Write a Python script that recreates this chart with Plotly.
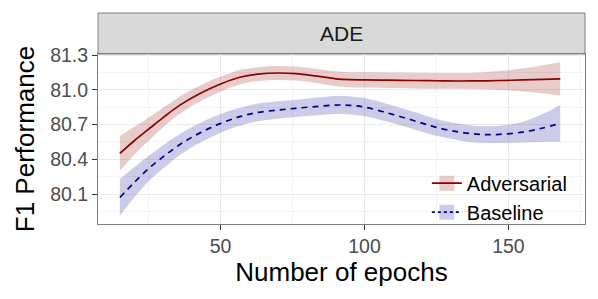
import plotly.graph_objects as go

# ---- data ----
epochs = [15, 20, 25, 30, 36, 43, 50, 57, 63, 70, 76, 83, 90, 95, 100, 108, 117, 125, 133, 140, 147, 155, 162, 168]

adv_mean = [80.45, 80.56, 80.66, 80.76, 80.87, 80.97, 81.05, 81.11, 81.135, 81.145, 81.14, 81.12,
            81.095, 81.087, 81.085, 81.083, 81.08, 81.078, 81.076, 81.077, 81.08, 81.085, 81.09, 81.095]
adv_halfwidth = [0.15, 0.12, 0.10, 0.085, 0.075, 0.07, 0.065, 0.062, 0.06, 0.06, 0.06, 0.062,
                 0.064, 0.065, 0.066, 0.067, 0.068, 0.068, 0.068, 0.072, 0.082, 0.10, 0.122, 0.145]

base_mean = [80.07, 80.20, 80.32, 80.42, 80.53, 80.63, 80.71, 80.77, 80.805, 80.825, 80.84, 80.855,
             80.868, 80.865, 80.85, 80.80, 80.735, 80.675, 80.635, 80.615, 80.615, 80.635, 80.67, 80.71]
base_halfwidth = [0.16, 0.13, 0.11, 0.10, 0.09, 0.085, 0.08, 0.078, 0.076, 0.075, 0.075, 0.076,
                  0.078, 0.078, 0.078, 0.077, 0.075, 0.073, 0.072, 0.072, 0.075, 0.09, 0.12, 0.16]

y_ticks = [80.1, 80.4, 80.7, 81.0, 81.3]
x_ticks = [50, 100, 150]
facet_label = "ADE"

series = [
    dict(name="Adversarial", mean=adv_mean, hw=adv_halfwidth,
         color="#8B0000", fill="rgba(139,0,0,0.2)", dash="solid"),
    dict(name="Baseline", mean=base_mean, hw=base_halfwidth,
         color="#00008B", fill="rgba(0,0,139,0.2)", dash="6px,5px"),
]

FONT = "Liberation Sans, Arial, Helvetica, sans-serif"

fig = go.Figure()

# ribbons
for s in series:
    lower = [m - h for m, h in zip(s["mean"], s["hw"])]
    upper = [m + h for m, h in zip(s["mean"], s["hw"])]
    fig.add_trace(go.Scatter(x=epochs, y=lower, mode="lines", line=dict(width=0, shape="spline"),
                             showlegend=False, hoverinfo="skip"))
    fig.add_trace(go.Scatter(x=epochs, y=upper, mode="lines", line=dict(width=0, shape="spline"),
                             fill="tonexty", fillcolor=s["fill"], showlegend=False, hoverinfo="skip"))

# lines
for s in series:
    fig.add_trace(go.Scatter(x=epochs, y=s["mean"], mode="lines", name=s["name"],
                             line=dict(color=s["color"], width=1.7, dash=s["dash"], shape="spline"),
                             showlegend=False))

# legend entries (ribbon-coloured key + line)
for s in series:
    fig.add_trace(go.Scatter(x=[None], y=[None], mode="lines+markers", name=s["name"],
                             marker=dict(symbol="square", size=15, color=s["fill"], line=dict(width=0)),
                             line=dict(color=s["color"], width=1.7,
                                       dash="solid" if s["dash"] == "solid" else "3px,3px")))

panel_top = 170 / 211

fig.update_layout(
    width=598, height=299,
    margin=dict(l=98, r=13, t=13, b=75),
    paper_bgcolor="white", plot_bgcolor="white",
    font=dict(family=FONT, color="#000000"),
    showlegend=True,
    legend=dict(x=0.975, y=0.125, xanchor="right", yanchor="middle", traceorder="normal",
                bgcolor="rgba(255,255,255,0)", font=dict(size=20, color="#000000"),
                tracegroupgap=0, itemwidth=30),
    xaxis=dict(range=[7.4, 176.6], tickvals=x_ticks, ticktext=[str(v) for v in x_ticks],
               automargin=False,
               showgrid=True, gridcolor="#EBEBEB", gridwidth=1,
               minor=dict(tickvals=[25, 75, 125, 175], showgrid=True, gridcolor="#F3F3F3", gridwidth=0.6),
               ticks="outside", ticklen=5, tickcolor="#333333", tickwidth=1,
               tickfont=dict(size=19.5, color="#4D4D4D"),
               showline=True, linecolor="#7F7F7F", linewidth=1, mirror=True,
               zeroline=False,
               title=dict(text="Number of epochs", font=dict(size=26, color="#000000"), standoff=6)),
    yaxis=dict(range=[79.841, 81.309], domain=[0, panel_top], tickvals=y_ticks,
               ticktext=[f"{v:.1f}" for v in y_ticks],
               automargin=False,
               showgrid=True, gridcolor="#EBEBEB", gridwidth=1,
               minor=dict(tickvals=[79.95, 80.25, 80.55, 80.85, 81.15], showgrid=True,
                          gridcolor="#F3F3F3", gridwidth=0.6),
               ticks="outside", ticklen=5, tickcolor="#333333", tickwidth=1,
               tickfont=dict(size=19.5, color="#4D4D4D"),
               showline=True, linecolor="#7F7F7F", linewidth=1, mirror=True,
               zeroline=False,
               title=dict(text="F1 Performance", font=dict(size=26, color="#000000"), standoff=8)),
    shapes=[dict(type="rect", xref="paper", yref="paper", x0=0, x1=1, y0=panel_top, y1=1,
                 fillcolor="#D9D9D9", line=dict(color="#7F7F7F", width=1), layer="below")],
    annotations=[dict(text=facet_label, xref="paper", yref="paper", x=0.5,
                      y=(panel_top + 1) / 2, xanchor="center", yanchor="middle",
                      showarrow=False, font=dict(size=21, color="#1A1A1A"))],
)

fig.write_html("out.html", config={"displayModeBar": False},
               post_script="document.body.style.margin='0';")
